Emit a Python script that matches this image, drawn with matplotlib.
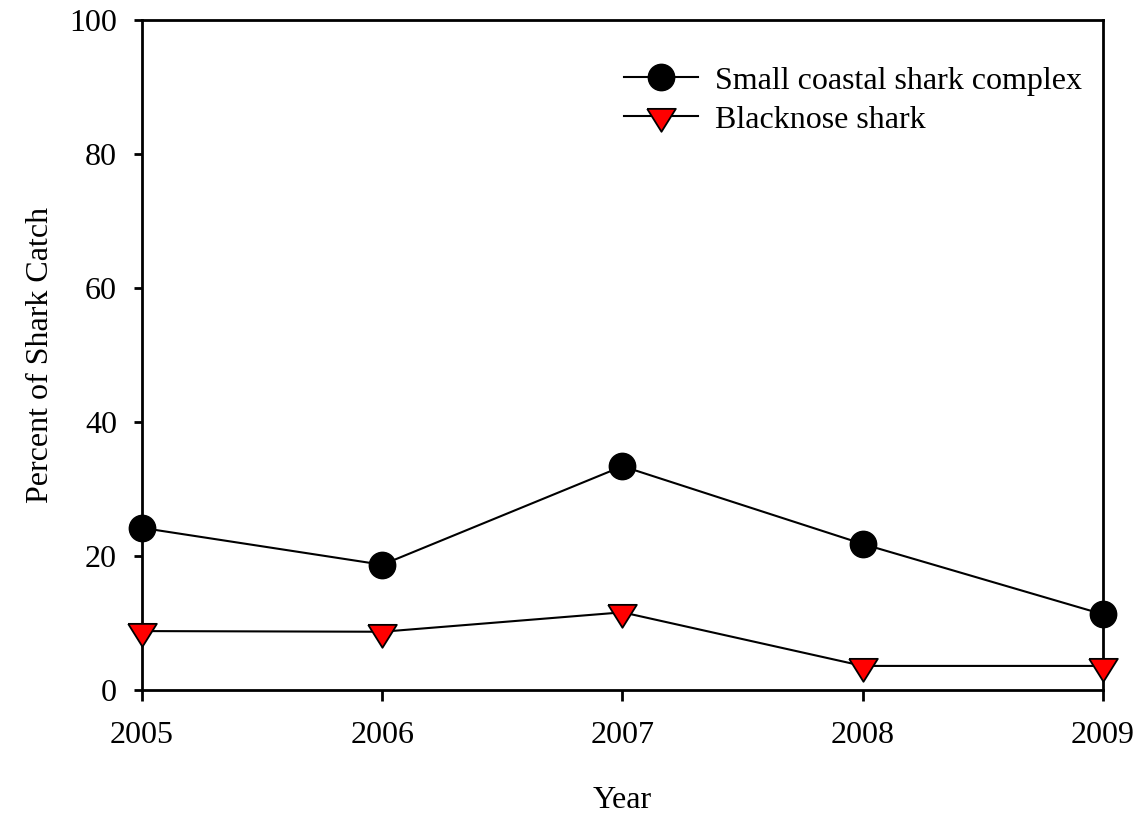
import matplotlib.pyplot as plt

years = [2005, 2006, 2007, 2008, 2009]
small_coastal = [24.2, 18.7, 33.4, 21.8, 11.3]
blacknose = [8.8, 8.7, 11.6, 3.6, 3.6]

label_1 = 'Small coastal shark complex'
label_2 = 'Blacknose shark'

plt.rcParams['font.family'] = 'Liberation Serif'

fig = plt.figure(figsize=(11.4, 8.17), dpi=100)
ax1 = fig.add_axes([0.1246, 0.1554, 0.8429, 0.8201])

# downward triangle centred on its centroid
tri = [(-1, 0.533), (1, 0.533), (0, -1.067), (-1, 0.533)]

ax1.plot(years, small_coastal, '-', color='black', linewidth=1.5,
         marker='o', markersize=19, markerfacecolor='black',
         markeredgecolor='black', label=label_1, clip_on=False, zorder=3)
ax1.plot(years, blacknose, '-', color='black', linewidth=1.5,
         marker=tri, markersize=22, markerfacecolor='red',
         markeredgecolor='black', markeredgewidth=1.3,
         label=label_2, clip_on=False, zorder=3)

ax1.set_xlim(2005, 2009)
ax1.set_ylim(0, 100)
ax1.set_xticks(years)
ax1.set_yticks(range(0, 101, 20))

for s in ax1.spines.values():
    s.set_linewidth(2.0)
ax1.tick_params(axis='both', direction='out', width=2.0, labelsize=23)
ax1.tick_params(axis='x', length=8, pad=14)
ax1.tick_params(axis='y', length=6, pad=12)

ax1.set_xlabel('Year', fontsize=23, labelpad=26)
ax1.set_ylabel('Percent of Shark Catch', fontsize=23, labelpad=10)

ax1.legend(loc='upper right', bbox_to_anchor=(0.992, 0.95), frameon=False,
           fontsize=23, handlelength=2.3, handletextpad=0.55, labelspacing=0.3,
           borderaxespad=0)

plt.savefig('out.png', dpi=100)
